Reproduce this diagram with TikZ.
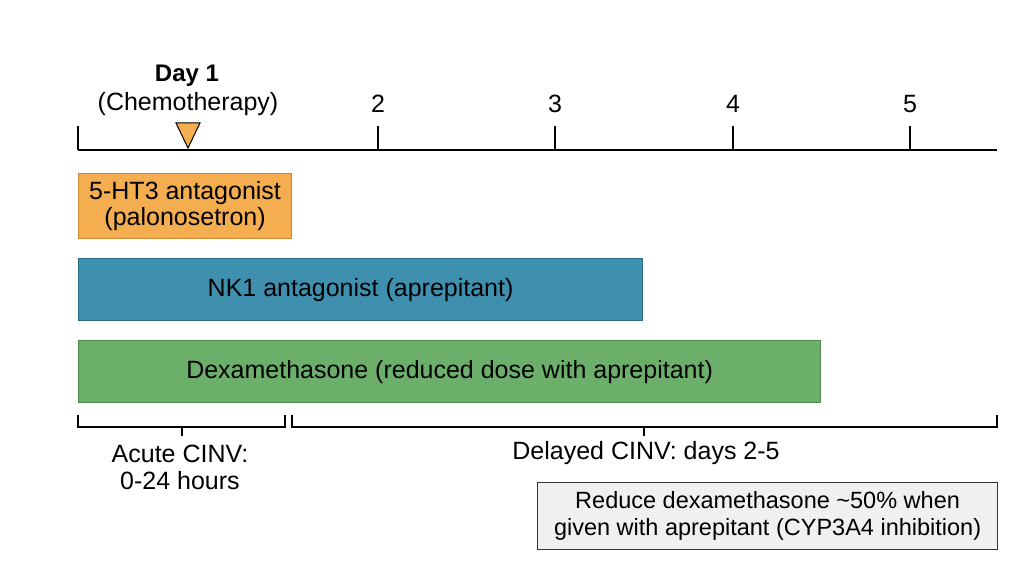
\documentclass[tikz,border=0pt]{standalone}
\usepackage{fontspec}
\setmainfont{Liberation Sans}
\definecolor{orangefill}{HTML}{F4AE4F}
\definecolor{orangeedge}{HTML}{C98A32}
\definecolor{bluefill}{HTML}{3F8FAF}
\definecolor{blueedge}{HTML}{2A6A86}
\definecolor{greenfill}{HTML}{6CAF6B}
\definecolor{greenedge}{HTML}{4E8A4D}
\definecolor{notefill}{HTML}{F0F0F0}
\definecolor{noteedge}{HTML}{333333}
\begin{document}
\begin{tikzpicture}[x=1pt,y=-1pt,
  every node/.style={font=\fontsize{25}{26.5}\selectfont, inner sep=0pt},
  bar/.style={draw, line width=1.2pt, anchor=north west, align=center},
  axisline/.style={line width=1.8pt, black},
  tickline/.style={line width=1.5pt, black},
  bracketline/.style={line width=1.2pt, black}
]
\useasboundingbox (0,0) rectangle (1024,572);
% axis
\coordinate (a0) at (78,150);
\coordinate (aend) at (997,150);
\draw[axisline] (a0) -- (aend);
\foreach \x/\n in {78/t1,378/t2,555/t3,733/t4,910/t5}{
  \coordinate (\n) at (\x,150);
  \draw[tickline] (\n) -- ++(0,-24);
}
\node (d2) at (378,104) {2};
\node (d3) at (555,104) {3};
\node (d4) at (733,104) {4};
\node (d5) at (910,104) {5};
\node[font=\fontsize{24}{27}\selectfont\bfseries] (day1) at (187,76) {Day 1};
\node (chemo) at (188,104) {(Chemotherapy)};
\draw[fill=orangefill, draw=black, line width=1pt, line join=miter] (176,123) -- (200,123) -- (188,148) -- cycle;
% bars
\node[bar, fill=orangefill, draw=orangeedge, minimum width=213pt, minimum height=65pt] (ht3) at (78,173) {5-HT3 antagonist\\(palonosetron)};
\node[bar, fill=bluefill, draw=blueedge, minimum width=564pt, minimum height=62pt] (nk1) at (78,258) {NK1 antagonist (aprepitant)};
\node[bar, fill=greenfill, draw=greenedge, minimum width=742pt, minimum height=62pt] (dex) at (78,340) {Dexamethasone (reduced dose with aprepitant)};
% brackets
\coordinate (acL) at (78,415);
\coordinate (acR) at (285,415);
\coordinate (acM) at (182,427);
\draw[bracketline] (acL) -- (78,427) -- (285,427) -- (acR);
\draw[bracketline] (acM) -- ++(0,9);
\coordinate (dlL) at (292,415);
\coordinate (dlR) at (997,415);
\coordinate (dlM) at (644,427);
\draw[bracketline] (dlL) -- (292,427) -- (997,427) -- (dlR);
\draw[bracketline] (dlM) -- ++(0,9);
\node[align=center, font=\fontsize{25}{27}\selectfont] (acute) at (180,467) {Acute CINV:\\0-24 hours};
\node (delayed) at (646,453) {Delayed CINV: days 2-5};
% note
\node[draw=noteedge, fill=notefill, line width=1.2pt, anchor=north west, minimum width=460pt, minimum height=67pt, align=center, font=\fontsize{23.5}{27}\selectfont] (note) at (537,482) {Reduce dexamethasone \textasciitilde50\% when\\given with aprepitant (CYP3A4 inhibition)};
\end{tikzpicture}
\end{document}
